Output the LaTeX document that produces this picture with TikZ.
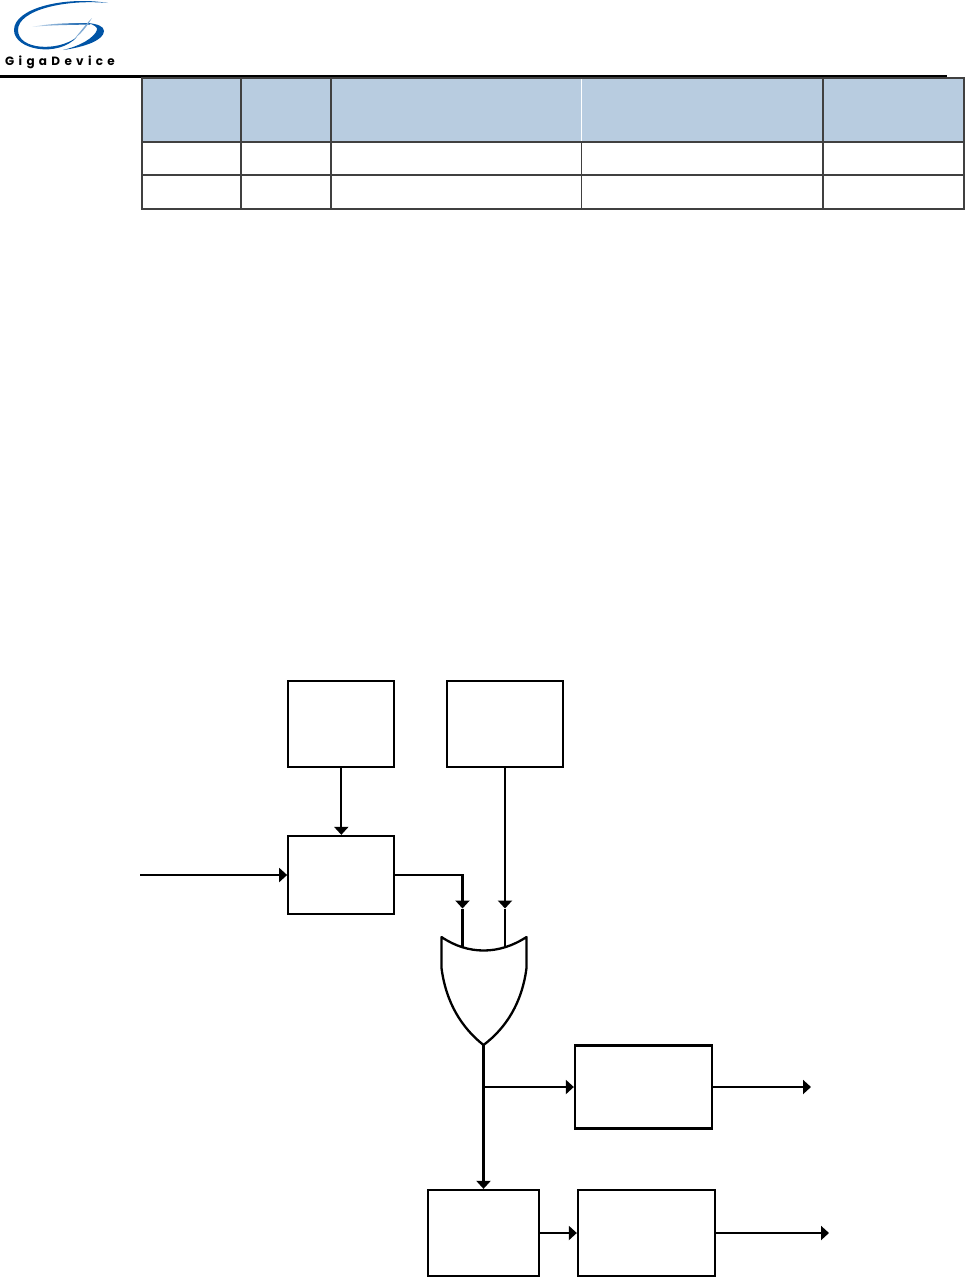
\documentclass[tikz,border=0pt]{standalone}
\usepackage{fontspec}
\setmainfont{Poppins}
\usetikzlibrary{arrows.meta}
\definecolor{headfill}{RGB}{184,204,224}
\definecolor{tableline}{RGB}{64,64,64}
\definecolor{logoblue}{RGB}{0,84,166}
\tikzset{
  blockbox/.style={draw,line width=2.3pt,inner sep=0pt,minimum width=#1},
  wire/.style={line width=2.3pt},
  sigarrow/.style={wire,-{Triangle[length=8pt,width=14pt]}},
}
\begin{document}
\begin{tikzpicture}[x=1pt,y=-1pt]
  \useasboundingbox (0,0) rectangle (965,1277);
  % Logo
  \fill[logoblue] (108,3) .. controls (65,-4) and (14,8) .. (14,30) .. controls (14,50) and (58,58) .. (77,37) .. controls (58,52) and (18,50) .. (18,30) .. controls (18,10) and (65,-1) .. (108,3) -- cycle;
  \fill[logoblue] (63,50) .. controls (85,47) and (104,40) .. (104,31) .. controls (104,26) and (97,24) .. (88,23) .. controls (94,25) and (98,27) .. (97,30) .. controls (94,38) and (80,46) .. (63,50) -- cycle;
  \shade[left color=logoblue!15,right color=logoblue] (32,27) .. controls (50,23) and (75,23) .. (90,23) -- (90,24.5) .. controls (70,25) and (50,25) .. (32,27) -- cycle;
  \fill[logoblue!50] (92,18) .. controls (86,24) and (81,31) .. (75,38) .. controls (82,33) and (87,26) .. (92,18) -- cycle;
  \node[font=\fontsize{12}{12}\selectfont\addfontfeature{LetterSpace=36},anchor=base west,inner sep=0pt] (brand) at (5,65) {\textbf{GigaDevice}};
  % Header rule
  \draw[line width=3pt] (0,76) -- (947,76);
  % Table
  \fill[headfill] (142,78) rectangle (964,142);
  \foreach \x in {241,331,823}
    \draw[tableline,line width=2pt] (\x,78) -- (\x,209);
  \draw[white,line width=1pt] (581.5,78) -- (581.5,142);
  \draw[tableline,line width=1pt] (581.5,142) -- (581.5,209);
  \foreach \y in {142,175}
    \draw[tableline,line width=2pt] (142,\y) -- (964,\y);
  \draw[tableline,line width=2pt] (142,78) rectangle (964,209);
  % Blocks
  \node[blockbox=106pt,minimum height=86pt] (clksrc) at (341.3,724) {};
  \node[blockbox=116pt,minimum height=86pt] (trigsrc) at (505,724) {};
  \node[blockbox=106pt,minimum height=78pt] (gatebox) at (341.3,875) {};
  \node[blockbox=137pt,minimum height=83pt] (outa) at (643.5,1087) {};
  \node[blockbox=111pt,minimum height=86pt] (divbox) at (483.5,1233) {};
  \node[blockbox=137pt,minimum height=86pt] (outb) at (646.5,1233) {};
  % OR gate
  \coordinate (orl) at (462.5,948);
  \coordinate (orr) at (505,948);
  \coordinate (orout) at (483.5,1045);
  \draw[wire,line join=round] (441.5,937) .. controls (468,955) and (499,955) .. (526.5,937) -- (526.5,968) .. controls (522,1003) and (506,1028) .. (orout) .. controls (462,1028) and (446,1003) .. (441.5,968) -- cycle;
  % Free ends
  \coordinate (clkin) at (140,875);
  \coordinate (outaend) at (811,1087);
  \coordinate (outbend) at (829,1233);
  \coordinate (orltip) at (462.5,908.5);
  \coordinate (orrtip) at (505,908.5);
  \coordinate (branch) at (483.5,1087);
  % Connectors
  \draw[sigarrow] (clksrc) -- (gatebox);
  \draw[sigarrow] (clkin) -- (gatebox.west);
  \draw[sigarrow] (gatebox.east) -| (orltip);
  \draw[wire] (orltip) -- (orl);
  \draw[sigarrow] (trigsrc) -- (orrtip);
  \draw[wire] (orrtip) -- (orr);
  \draw[sigarrow] (orout) -- (divbox.north);
  \draw[sigarrow] (branch) -- (outa.west);
  \draw[sigarrow] (outa.east) -- (outaend);
  \draw[sigarrow] (divbox) -- (outb);
  \draw[sigarrow] (outb.east) -- (outbend);
\end{tikzpicture}
\end{document}
